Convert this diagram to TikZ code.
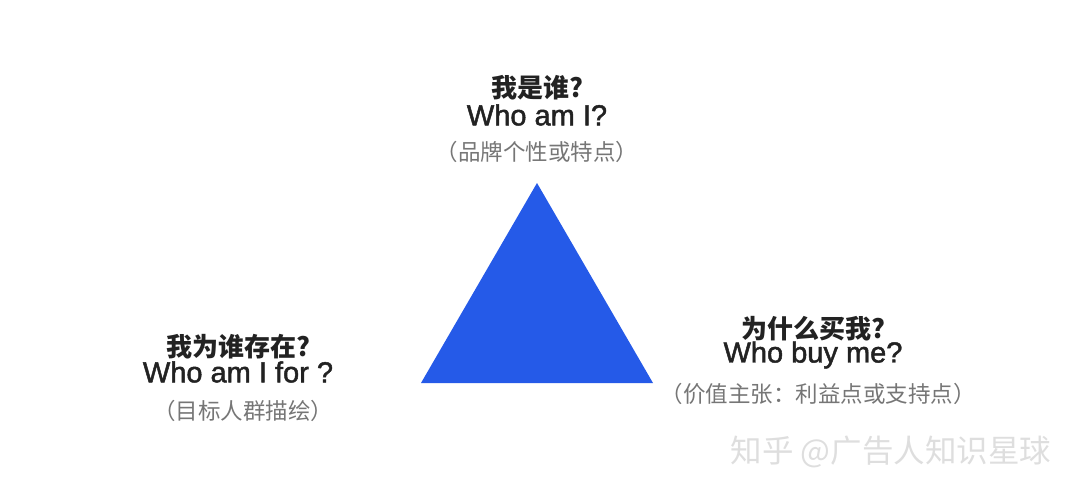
\documentclass[tikz,border=0pt]{standalone}
\usepackage{fontspec}
\setmainfont{Noto Sans CJK SC}
\newfontfamily\latinfont[FakeBold=1.6]{Liberation Sans}
\definecolor{tribl}{RGB}{37,90,232}
\definecolor{ink}{RGB}{34,34,34}
\definecolor{notegray}{RGB}{118,118,118}
\definecolor{markgray}{RGB}{222,222,222}
\tikzset{
  cnline/.style={font=\bfseries\fontsize{26}{26}\selectfont, text=ink, inner sep=0pt},
  enline/.style={font=\latinfont\fontsize{29}{29}\selectfont, text=ink, inner sep=0pt},
  noteline/.style={font=\fontsize{22.5}{22.5}\selectfont, text=notegray, inner sep=0pt},
}
\begin{document}
\begin{tikzpicture}[x=1pt,y=-1pt]
        \useasboundingbox (0,0) rectangle (1080,495);
        %% triangle
        \fill[tribl] (537,183) -- (421,383) -- (653,383) -- cycle;
        %% top: who am i
        \node[cnline] (top-cn) at (537,88) {我是谁?};
        \node[enline] (top-en) at (537,115) {Who am I?};
        \node[noteline] (top-note) at (537,152) {（品牌个性或特点）};
        %% left: who am i for
        \node[cnline] (left-cn) at (238,347) {我为谁存在?};
        \node[enline] (left-en) at (238,372) {Who am I for ?};
        \node[noteline] (left-note) at (243,411) {（目标人群描绘）};
        %% right: who buy me
        \node[cnline] (right-cn) at (813,329) {为什么买我?};
        \node[enline] (right-en) at (813,355) {Who buy me?};
        \node[noteline] (right-note) at (818,394) {（价值主张：利益点或支持点）};
        %% watermark
        \node[font=\fontsize{31.5}{31.5}\selectfont, text=markgray, inner sep=0pt] (mark) at (891,452) {知乎 @广告人知识星球};
    \end{tikzpicture}
\end{document}
